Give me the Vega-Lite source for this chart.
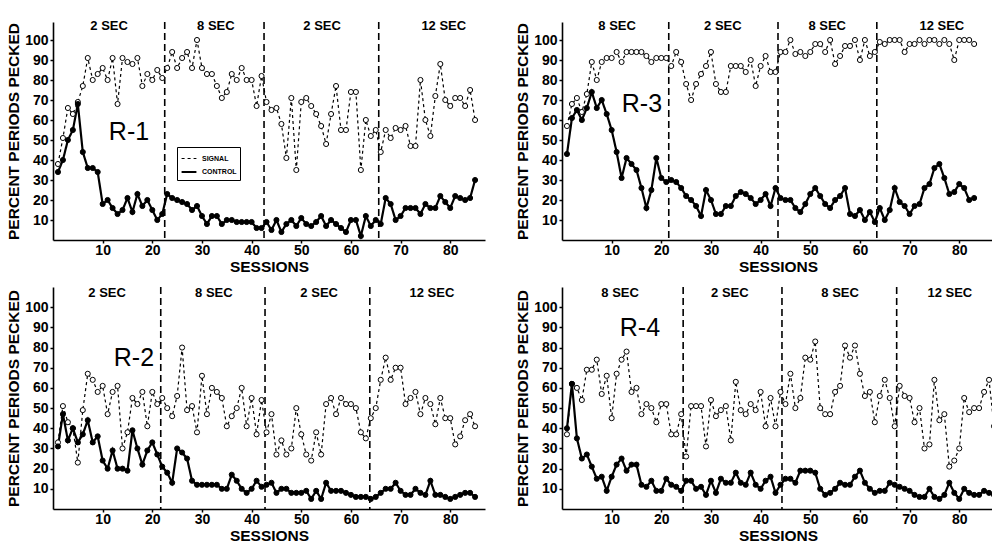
{
  "$schema": "https://vega.github.io/schema/vega-lite/v6.json",
  "background": "white",
  "padding": {"left": 6, "top": 20, "right": 0, "bottom": 0},
  "config": {
    "view": {"stroke": null},
    "axis": {"domainColor": "black", "domainWidth": 1.6, "tickColor": "black", "tickWidth": 1.5, "labelColor": "black", "labelFont": "Liberation Sans", "labelFontWeight": "bold", "labelFontSize": 14, "titleColor": "black", "titleFont": "Liberation Sans", "titleFontWeight": "bold", "titleFontSize": 15.5, "grid": false},
    "axisX": {"tickSize": 3, "labelPadding": 0, "titlePadding": 2},
    "axisY": {"tickSize": 3, "labelPadding": 2, "titlePadding": 3}
  },
  "datasets": {
    "r1": [
      {"s":1,"SIGNAL":38,"CONTROL":34},{"s":2,"SIGNAL":51,"CONTROL":40},{"s":3,"SIGNAL":66,"CONTROL":50},{"s":4,"SIGNAL":63,"CONTROL":55},{"s":5,"SIGNAL":69,"CONTROL":68},
      {"s":6,"SIGNAL":77,"CONTROL":44},{"s":7,"SIGNAL":91,"CONTROL":36},{"s":8,"SIGNAL":80,"CONTROL":36},{"s":9,"SIGNAL":83,"CONTROL":34},{"s":10,"SIGNAL":86,"CONTROL":18},
      {"s":11,"SIGNAL":80,"CONTROL":20},{"s":12,"SIGNAL":91,"CONTROL":16},{"s":13,"SIGNAL":68,"CONTROL":13},{"s":14,"SIGNAL":91,"CONTROL":15},{"s":15,"SIGNAL":89,"CONTROL":21},
      {"s":16,"SIGNAL":88,"CONTROL":14},{"s":17,"SIGNAL":91,"CONTROL":23},{"s":18,"SIGNAL":77,"CONTROL":17},{"s":19,"SIGNAL":83,"CONTROL":20},{"s":20,"SIGNAL":80,"CONTROL":15},
      {"s":21,"SIGNAL":85,"CONTROL":10},{"s":22,"SIGNAL":81,"CONTROL":13},{"s":23,"SIGNAL":86,"CONTROL":23},{"s":24,"SIGNAL":94,"CONTROL":21},{"s":25,"SIGNAL":86,"CONTROL":20},
      {"s":26,"SIGNAL":91,"CONTROL":19},{"s":27,"SIGNAL":94,"CONTROL":18},{"s":28,"SIGNAL":86,"CONTROL":15},{"s":29,"SIGNAL":100,"CONTROL":17},{"s":30,"SIGNAL":86,"CONTROL":12},
      {"s":31,"SIGNAL":83,"CONTROL":8},{"s":32,"SIGNAL":83,"CONTROL":12},{"s":33,"SIGNAL":77,"CONTROL":12},{"s":34,"SIGNAL":71,"CONTROL":8},{"s":35,"SIGNAL":74,"CONTROL":10},
      {"s":36,"SIGNAL":83,"CONTROL":10},{"s":37,"SIGNAL":80,"CONTROL":9},{"s":38,"SIGNAL":86,"CONTROL":9},{"s":39,"SIGNAL":80,"CONTROL":9},{"s":40,"SIGNAL":80,"CONTROL":9},
      {"s":41,"SIGNAL":67,"CONTROL":6},{"s":42,"SIGNAL":82,"CONTROL":6},{"s":43,"SIGNAL":69,"CONTROL":9},{"s":44,"SIGNAL":65,"CONTROL":5},{"s":45,"SIGNAL":66,"CONTROL":10},
      {"s":46,"SIGNAL":58,"CONTROL":4},{"s":47,"SIGNAL":41,"CONTROL":8},{"s":48,"SIGNAL":71,"CONTROL":10},{"s":49,"SIGNAL":35,"CONTROL":7},{"s":50,"SIGNAL":69,"CONTROL":11},
      {"s":51,"SIGNAL":71,"CONTROL":8},{"s":52,"SIGNAL":67,"CONTROL":7},{"s":53,"SIGNAL":63,"CONTROL":9},{"s":54,"SIGNAL":57,"CONTROL":12},{"s":55,"SIGNAL":48,"CONTROL":7},
      {"s":56,"SIGNAL":63,"CONTROL":10},{"s":57,"SIGNAL":77,"CONTROL":8},{"s":58,"SIGNAL":55,"CONTROL":6},{"s":59,"SIGNAL":55,"CONTROL":4},{"s":60,"SIGNAL":74,"CONTROL":10},
      {"s":61,"SIGNAL":74,"CONTROL":10},{"s":62,"SIGNAL":35,"CONTROL":2},{"s":63,"SIGNAL":60,"CONTROL":12},{"s":64,"SIGNAL":52,"CONTROL":7},{"s":65,"SIGNAL":55,"CONTROL":10},
      {"s":66,"SIGNAL":44,"CONTROL":8},{"s":67,"SIGNAL":55,"CONTROL":21},{"s":68,"SIGNAL":51,"CONTROL":18},{"s":69,"SIGNAL":56,"CONTROL":10},{"s":70,"SIGNAL":55,"CONTROL":12},
      {"s":71,"SIGNAL":57,"CONTROL":16},{"s":72,"SIGNAL":47,"CONTROL":16},{"s":73,"SIGNAL":47,"CONTROL":16},{"s":74,"SIGNAL":80,"CONTROL":13},{"s":75,"SIGNAL":60,"CONTROL":18},
      {"s":76,"SIGNAL":52,"CONTROL":16},{"s":77,"SIGNAL":72,"CONTROL":16},{"s":78,"SIGNAL":88,"CONTROL":22},{"s":79,"SIGNAL":70,"CONTROL":19},{"s":80,"SIGNAL":67,"CONTROL":16},
      {"s":81,"SIGNAL":71,"CONTROL":22},{"s":82,"SIGNAL":71,"CONTROL":21},{"s":83,"SIGNAL":67,"CONTROL":20},{"s":84,"SIGNAL":75,"CONTROL":21},{"s":85,"SIGNAL":60,"CONTROL":30}
    ],
    "r3": [
      {"s":1,"SIGNAL":57,"CONTROL":43},{"s":2,"SIGNAL":68,"CONTROL":61},{"s":3,"SIGNAL":71,"CONTROL":65},{"s":4,"SIGNAL":64,"CONTROL":60},{"s":5,"SIGNAL":73,"CONTROL":66},
      {"s":6,"SIGNAL":89,"CONTROL":74},{"s":7,"SIGNAL":80,"CONTROL":66},{"s":8,"SIGNAL":89,"CONTROL":70},{"s":9,"SIGNAL":91,"CONTROL":63},{"s":10,"SIGNAL":91,"CONTROL":55},
      {"s":11,"SIGNAL":94,"CONTROL":44},{"s":12,"SIGNAL":89,"CONTROL":31},{"s":13,"SIGNAL":94,"CONTROL":41},{"s":14,"SIGNAL":94,"CONTROL":38},{"s":15,"SIGNAL":94,"CONTROL":35},
      {"s":16,"SIGNAL":94,"CONTROL":26},{"s":17,"SIGNAL":92,"CONTROL":16},{"s":18,"SIGNAL":89,"CONTROL":25},{"s":19,"SIGNAL":91,"CONTROL":41},{"s":20,"SIGNAL":91,"CONTROL":31},
      {"s":21,"SIGNAL":91,"CONTROL":29},{"s":22,"SIGNAL":87,"CONTROL":30},{"s":23,"SIGNAL":94,"CONTROL":29},{"s":24,"SIGNAL":89,"CONTROL":26},{"s":25,"SIGNAL":78,"CONTROL":22},
      {"s":26,"SIGNAL":70,"CONTROL":20},{"s":27,"SIGNAL":78,"CONTROL":17},{"s":28,"SIGNAL":83,"CONTROL":12},{"s":29,"SIGNAL":87,"CONTROL":25},{"s":30,"SIGNAL":94,"CONTROL":20},
      {"s":31,"SIGNAL":78,"CONTROL":13},{"s":32,"SIGNAL":74,"CONTROL":13},{"s":33,"SIGNAL":74,"CONTROL":17},{"s":34,"SIGNAL":87,"CONTROL":17},{"s":35,"SIGNAL":87,"CONTROL":22},
      {"s":36,"SIGNAL":87,"CONTROL":24},{"s":37,"SIGNAL":84,"CONTROL":23},{"s":38,"SIGNAL":90,"CONTROL":21},{"s":39,"SIGNAL":77,"CONTROL":18},{"s":40,"SIGNAL":87,"CONTROL":20},
      {"s":41,"SIGNAL":92,"CONTROL":23},{"s":42,"SIGNAL":84,"CONTROL":17},{"s":43,"SIGNAL":84,"CONTROL":26},{"s":44,"SIGNAL":94,"CONTROL":21},{"s":45,"SIGNAL":94,"CONTROL":20},
      {"s":46,"SIGNAL":100,"CONTROL":20},{"s":47,"SIGNAL":93,"CONTROL":16},{"s":48,"SIGNAL":94,"CONTROL":14},{"s":49,"SIGNAL":92,"CONTROL":18},{"s":50,"SIGNAL":94,"CONTROL":23},
      {"s":51,"SIGNAL":98,"CONTROL":26},{"s":52,"SIGNAL":98,"CONTROL":22},{"s":53,"SIGNAL":94,"CONTROL":18},{"s":54,"SIGNAL":100,"CONTROL":16},{"s":55,"SIGNAL":88,"CONTROL":20},
      {"s":56,"SIGNAL":92,"CONTROL":22},{"s":57,"SIGNAL":97,"CONTROL":26},{"s":58,"SIGNAL":97,"CONTROL":13},{"s":59,"SIGNAL":100,"CONTROL":12},{"s":60,"SIGNAL":90,"CONTROL":15},
      {"s":61,"SIGNAL":100,"CONTROL":10},{"s":62,"SIGNAL":92,"CONTROL":14},{"s":63,"SIGNAL":94,"CONTROL":9},{"s":64,"SIGNAL":99,"CONTROL":16},{"s":65,"SIGNAL":98,"CONTROL":10},
      {"s":66,"SIGNAL":100,"CONTROL":15},{"s":67,"SIGNAL":100,"CONTROL":26},{"s":68,"SIGNAL":100,"CONTROL":19},{"s":69,"SIGNAL":94,"CONTROL":17},{"s":70,"SIGNAL":98,"CONTROL":13},
      {"s":71,"SIGNAL":98,"CONTROL":17},{"s":72,"SIGNAL":100,"CONTROL":18},{"s":73,"SIGNAL":98,"CONTROL":26},{"s":74,"SIGNAL":100,"CONTROL":28},{"s":75,"SIGNAL":100,"CONTROL":36},
      {"s":76,"SIGNAL":98,"CONTROL":38},{"s":77,"SIGNAL":100,"CONTROL":31},{"s":78,"SIGNAL":98,"CONTROL":23},{"s":79,"SIGNAL":90,"CONTROL":24},{"s":80,"SIGNAL":100,"CONTROL":28},
      {"s":81,"SIGNAL":100,"CONTROL":26},{"s":82,"SIGNAL":100,"CONTROL":20},{"s":83,"SIGNAL":98,"CONTROL":21}
    ],
    "r2": [
      {"s":1,"SIGNAL":33,"CONTROL":31},{"s":2,"SIGNAL":51,"CONTROL":47},{"s":3,"SIGNAL":43,"CONTROL":34},{"s":4,"SIGNAL":40,"CONTROL":40},{"s":5,"SIGNAL":23,"CONTROL":33},
      {"s":6,"SIGNAL":49,"CONTROL":37},{"s":7,"SIGNAL":67,"CONTROL":44},{"s":8,"SIGNAL":64,"CONTROL":33},{"s":9,"SIGNAL":58,"CONTROL":36},{"s":10,"SIGNAL":61,"CONTROL":24},
      {"s":11,"SIGNAL":47,"CONTROL":20},{"s":12,"SIGNAL":58,"CONTROL":29},{"s":13,"SIGNAL":61,"CONTROL":20},{"s":14,"SIGNAL":30,"CONTROL":20},{"s":15,"SIGNAL":38,"CONTROL":19},
      {"s":16,"SIGNAL":55,"CONTROL":39},{"s":17,"SIGNAL":52,"CONTROL":30},{"s":18,"SIGNAL":58,"CONTROL":22},{"s":19,"SIGNAL":41,"CONTROL":29},{"s":20,"SIGNAL":58,"CONTROL":33},
      {"s":21,"SIGNAL":52,"CONTROL":27},{"s":22,"SIGNAL":55,"CONTROL":21},{"s":23,"SIGNAL":50,"CONTROL":18},{"s":24,"SIGNAL":46,"CONTROL":13},{"s":25,"SIGNAL":56,"CONTROL":30},
      {"s":26,"SIGNAL":80,"CONTROL":28},{"s":27,"SIGNAL":49,"CONTROL":25},{"s":28,"SIGNAL":51,"CONTROL":14},{"s":29,"SIGNAL":38,"CONTROL":12},{"s":30,"SIGNAL":66,"CONTROL":12},
      {"s":31,"SIGNAL":47,"CONTROL":12},{"s":32,"SIGNAL":60,"CONTROL":12},{"s":33,"SIGNAL":58,"CONTROL":12},{"s":34,"SIGNAL":55,"CONTROL":10},{"s":35,"SIGNAL":41,"CONTROL":10},
      {"s":36,"SIGNAL":46,"CONTROL":17},{"s":37,"SIGNAL":50,"CONTROL":14},{"s":38,"SIGNAL":60,"CONTROL":10},{"s":39,"SIGNAL":41,"CONTROL":8},{"s":40,"SIGNAL":55,"CONTROL":10},
      {"s":41,"SIGNAL":37,"CONTROL":14},{"s":42,"SIGNAL":54,"CONTROL":11},{"s":43,"SIGNAL":38,"CONTROL":12},{"s":44,"SIGNAL":47,"CONTROL":13},{"s":45,"SIGNAL":27,"CONTROL":8},
      {"s":46,"SIGNAL":34,"CONTROL":10},{"s":47,"SIGNAL":27,"CONTROL":10},{"s":48,"SIGNAL":30,"CONTROL":8},{"s":49,"SIGNAL":50,"CONTROL":8},{"s":50,"SIGNAL":37,"CONTROL":8},
      {"s":51,"SIGNAL":27,"CONTROL":9},{"s":52,"SIGNAL":24,"CONTROL":5},{"s":53,"SIGNAL":38,"CONTROL":9},{"s":54,"SIGNAL":27,"CONTROL":5},{"s":55,"SIGNAL":52,"CONTROL":13},
      {"s":56,"SIGNAL":55,"CONTROL":9},{"s":57,"SIGNAL":47,"CONTROL":9},{"s":58,"SIGNAL":55,"CONTROL":9},{"s":59,"SIGNAL":52,"CONTROL":8},{"s":60,"SIGNAL":52,"CONTROL":7},
      {"s":61,"SIGNAL":50,"CONTROL":6},{"s":62,"SIGNAL":38,"CONTROL":6},{"s":63,"SIGNAL":35,"CONTROL":6},{"s":64,"SIGNAL":45,"CONTROL":5},{"s":65,"SIGNAL":50,"CONTROL":6},
      {"s":66,"SIGNAL":64,"CONTROL":8},{"s":67,"SIGNAL":75,"CONTROL":10},{"s":68,"SIGNAL":64,"CONTROL":10},{"s":69,"SIGNAL":70,"CONTROL":13},{"s":70,"SIGNAL":70,"CONTROL":9},
      {"s":71,"SIGNAL":52,"CONTROL":7},{"s":72,"SIGNAL":55,"CONTROL":7},{"s":73,"SIGNAL":58,"CONTROL":10},{"s":74,"SIGNAL":47,"CONTROL":8},{"s":75,"SIGNAL":55,"CONTROL":7},
      {"s":76,"SIGNAL":52,"CONTROL":14},{"s":77,"SIGNAL":42,"CONTROL":7},{"s":78,"SIGNAL":55,"CONTROL":7},{"s":79,"SIGNAL":45,"CONTROL":6},{"s":80,"SIGNAL":45,"CONTROL":5},
      {"s":81,"SIGNAL":32,"CONTROL":6},{"s":82,"SIGNAL":36,"CONTROL":7},{"s":83,"SIGNAL":44,"CONTROL":8},{"s":84,"SIGNAL":47,"CONTROL":8},{"s":85,"SIGNAL":41,"CONTROL":6}
    ],
    "r4": [
      {"s":1,"SIGNAL":37,"CONTROL":40},{"s":2,"SIGNAL":62,"CONTROL":62},{"s":3,"SIGNAL":60,"CONTROL":35},{"s":4,"SIGNAL":54,"CONTROL":25},{"s":5,"SIGNAL":69,"CONTROL":27},
      {"s":6,"SIGNAL":69,"CONTROL":21},{"s":7,"SIGNAL":74,"CONTROL":15},{"s":8,"SIGNAL":57,"CONTROL":16},{"s":9,"SIGNAL":66,"CONTROL":9},{"s":10,"SIGNAL":45,"CONTROL":16},
      {"s":11,"SIGNAL":67,"CONTROL":22},{"s":12,"SIGNAL":74,"CONTROL":25},{"s":13,"SIGNAL":78,"CONTROL":19},{"s":14,"SIGNAL":58,"CONTROL":22},{"s":15,"SIGNAL":60,"CONTROL":22},
      {"s":16,"SIGNAL":47,"CONTROL":12},{"s":17,"SIGNAL":52,"CONTROL":11},{"s":18,"SIGNAL":50,"CONTROL":14},{"s":19,"SIGNAL":43,"CONTROL":9},{"s":20,"SIGNAL":52,"CONTROL":9},
      {"s":21,"SIGNAL":52,"CONTROL":15},{"s":22,"SIGNAL":37,"CONTROL":12},{"s":23,"SIGNAL":37,"CONTROL":11},{"s":24,"SIGNAL":47,"CONTROL":9},{"s":25,"SIGNAL":26,"CONTROL":14},
      {"s":26,"SIGNAL":51,"CONTROL":14},{"s":27,"SIGNAL":51,"CONTROL":10},{"s":28,"SIGNAL":51,"CONTROL":11},{"s":29,"SIGNAL":31,"CONTROL":7},{"s":30,"SIGNAL":54,"CONTROL":14},
      {"s":31,"SIGNAL":46,"CONTROL":8},{"s":32,"SIGNAL":49,"CONTROL":15},{"s":33,"SIGNAL":51,"CONTROL":13},{"s":34,"SIGNAL":34,"CONTROL":13},{"s":35,"SIGNAL":63,"CONTROL":18},
      {"s":36,"SIGNAL":49,"CONTROL":13},{"s":37,"SIGNAL":47,"CONTROL":12},{"s":38,"SIGNAL":52,"CONTROL":18},{"s":39,"SIGNAL":49,"CONTROL":12},{"s":40,"SIGNAL":58,"CONTROL":10},
      {"s":41,"SIGNAL":41,"CONTROL":14},{"s":42,"SIGNAL":55,"CONTROL":16},{"s":43,"SIGNAL":41,"CONTROL":8},{"s":44,"SIGNAL":58,"CONTROL":12},{"s":45,"SIGNAL":52,"CONTROL":15},
      {"s":46,"SIGNAL":67,"CONTROL":15},{"s":47,"SIGNAL":50,"CONTROL":13},{"s":48,"SIGNAL":55,"CONTROL":19},{"s":49,"SIGNAL":75,"CONTROL":19},{"s":50,"SIGNAL":74,"CONTROL":19},
      {"s":51,"SIGNAL":83,"CONTROL":18},{"s":52,"SIGNAL":50,"CONTROL":10},{"s":53,"SIGNAL":47,"CONTROL":7},{"s":54,"SIGNAL":47,"CONTROL":8},{"s":55,"SIGNAL":58,"CONTROL":10},
      {"s":56,"SIGNAL":61,"CONTROL":13},{"s":57,"SIGNAL":81,"CONTROL":12},{"s":58,"SIGNAL":75,"CONTROL":12},{"s":59,"SIGNAL":81,"CONTROL":16},{"s":60,"SIGNAL":67,"CONTROL":19},
      {"s":61,"SIGNAL":56,"CONTROL":13},{"s":62,"SIGNAL":58,"CONTROL":10},{"s":63,"SIGNAL":43,"CONTROL":8},{"s":64,"SIGNAL":56,"CONTROL":9},{"s":65,"SIGNAL":64,"CONTROL":9},
      {"s":66,"SIGNAL":55,"CONTROL":13},{"s":67,"SIGNAL":41,"CONTROL":12},{"s":68,"SIGNAL":61,"CONTROL":11},{"s":69,"SIGNAL":56,"CONTROL":10},{"s":70,"SIGNAL":55,"CONTROL":9},
      {"s":71,"SIGNAL":43,"CONTROL":7},{"s":72,"SIGNAL":50,"CONTROL":6},{"s":73,"SIGNAL":30,"CONTROL":6},{"s":74,"SIGNAL":32,"CONTROL":10},{"s":75,"SIGNAL":64,"CONTROL":6},
      {"s":76,"SIGNAL":44,"CONTROL":5},{"s":77,"SIGNAL":47,"CONTROL":7},{"s":78,"SIGNAL":21,"CONTROL":13},{"s":79,"SIGNAL":24,"CONTROL":8},{"s":80,"SIGNAL":30,"CONTROL":5},
      {"s":81,"SIGNAL":55,"CONTROL":10},{"s":82,"SIGNAL":48,"CONTROL":8},{"s":83,"SIGNAL":50,"CONTROL":7},{"s":84,"SIGNAL":50,"CONTROL":7},{"s":85,"SIGNAL":58,"CONTROL":9},
      {"s":86,"SIGNAL":64,"CONTROL":8},{"s":87,"SIGNAL":41,"CONTROL":7}
    ]
  },
  "resolve": {"scale": {"strokeDash": "independent", "strokeWidth": "independent", "fill": "independent"}, "legend": {"strokeDash": "independent"}},
  "spacing": 11,
  "vconcat": [
    {
      "spacing": 30,
      "resolve": {"scale": {"strokeDash": "independent", "strokeWidth": "independent", "fill": "independent"}, "legend": {"strokeDash": "independent"}},
      "hconcat": [
        {
          "width": 432, "height": 218,
          "layer": [
            {"data": {"values": [{"b": 22.5}, {"b": 42.5}, {"b": 65.6}]},
             "mark": {"type": "rule", "color": "black", "strokeWidth": 1.6, "strokeDash": [7, 4]},
             "encoding": {"x": {"field": "b", "type": "quantitative", "scale": {"domain": [0, 87], "nice": false}, "axis": {"title": "SESSIONS", "values": [10, 20, 30, 40, 50, 60, 70, 80]}}}},
            {"data": {"values": [{"t": "2 SEC", "s": 11.3}, {"t": "8 SEC", "s": 32.8}, {"t": "2 SEC", "s": 54.2}, {"t": "12 SEC", "s": 78.7}]},
             "mark": {"type": "text", "font": "Liberation Sans", "fontWeight": "bold", "fontSize": 13, "baseline": "middle", "color": "black"},
             "encoding": {"x": {"field": "s", "type": "quantitative", "scale": {"domain": [0, 87], "nice": false}, "axis": {"title": "SESSIONS", "values": [10, 20, 30, 40, 50, 60, 70, 80]}},
                          "y": {"datum": 107, "type": "quantitative", "scale": {"domain": [0, 109], "nice": false}, "axis": {"title": "PERCENT PERIODS PECKED", "values": [10, 20, 30, 40, 50, 60, 70, 80, 90, 100]}},
                          "text": {"field": "t"}}},
            {"data": {"values": [{"t": "R-1"}]},
             "mark": {"type": "text", "font": "Liberation Sans", "fontSize": 25, "baseline": "middle", "color": "black"},
             "encoding": {"x": {"datum": 15.3, "type": "quantitative", "scale": {"domain": [0, 87], "nice": false}, "axis": {"title": "SESSIONS", "values": [10, 20, 30, 40, 50, 60, 70, 80]}},
                          "y": {"datum": 54, "type": "quantitative", "scale": {"domain": [0, 109], "nice": false}, "axis": {"title": "PERCENT PERIODS PECKED", "values": [10, 20, 30, 40, 50, 60, 70, 80, 90, 100]}},
                          "text": {"field": "t"}}},
            {"data": {"name": "r1"},
             "transform": [{"fold": ["SIGNAL", "CONTROL"], "as": ["series", "pct"]}],
             "mark": {"type": "line", "color": "black"},
             "encoding": {
               "x": {"field": "s", "type": "quantitative", "scale": {"domain": [0, 87], "nice": false}, "axis": {"title": "SESSIONS", "values": [10, 20, 30, 40, 50, 60, 70, 80]}},
               "y": {"field": "pct", "type": "quantitative", "scale": {"domain": [0, 109], "nice": false}, "axis": {"title": "PERCENT PERIODS PECKED", "values": [10, 20, 30, 40, 50, 60, 70, 80, 90, 100]}},
               "strokeDash": {"field": "series", "type": "nominal", "scale": {"domain": ["SIGNAL", "CONTROL"], "range": [[3, 3], [1, 0]]},
                              "legend": {"orient": "none", "legendX": 124, "legendY": 125, "title": null, "symbolType": "stroke", "symbolStrokeColor": "black", "symbolStrokeWidth": 1.5, "symbolSize": 220, "labelFont": "Liberation Sans", "labelFontWeight": "bold", "labelFontSize": 7, "labelColor": "black", "strokeColor": "black", "padding": 3, "rowPadding": 1, "labelOffset": 4, "fillColor": "white"}},
               "strokeWidth": {"field": "series", "type": "nominal", "scale": {"domain": ["SIGNAL", "CONTROL"], "range": [1.2, 2.2]}, "legend": null}
             }},
            {"data": {"name": "r1"},
             "transform": [{"fold": ["SIGNAL", "CONTROL"], "as": ["series", "pct"]}],
             "mark": {"type": "circle", "stroke": "black", "strokeWidth": 1, "size": 26, "opacity": 1},
             "encoding": {
               "x": {"field": "s", "type": "quantitative", "scale": {"domain": [0, 87], "nice": false}, "axis": {"title": "SESSIONS", "values": [10, 20, 30, 40, 50, 60, 70, 80]}},
               "y": {"field": "pct", "type": "quantitative", "scale": {"domain": [0, 109], "nice": false}, "axis": {"title": "PERCENT PERIODS PECKED", "values": [10, 20, 30, 40, 50, 60, 70, 80, 90, 100]}},
               "fill": {"field": "series", "type": "nominal", "scale": {"domain": ["SIGNAL", "CONTROL"], "range": ["white", "black"]}, "legend": null}
             }}
          ]
        },
        {
          "width": 432, "height": 218,
          "layer": [
            {"data": {"values": [{"b": 21.5}, {"b": 43.5}, {"b": 63.4}]},
             "mark": {"type": "rule", "color": "black", "strokeWidth": 1.6, "strokeDash": [7, 4]},
             "encoding": {"x": {"field": "b", "type": "quantitative", "scale": {"domain": [0, 87], "nice": false}, "axis": {"title": "SESSIONS", "values": [10, 20, 30, 40, 50, 60, 70, 80]}}}},
            {"data": {"values": [{"t": "8 SEC", "s": 11.1}, {"t": "2 SEC", "s": 32.4}, {"t": "8 SEC", "s": 53.4}, {"t": "12 SEC", "s": 76.5}]},
             "mark": {"type": "text", "font": "Liberation Sans", "fontWeight": "bold", "fontSize": 13, "baseline": "middle", "color": "black"},
             "encoding": {"x": {"field": "s", "type": "quantitative", "scale": {"domain": [0, 87], "nice": false}, "axis": {"title": "SESSIONS", "values": [10, 20, 30, 40, 50, 60, 70, 80]}},
                          "y": {"datum": 107, "type": "quantitative", "scale": {"domain": [0, 109], "nice": false}, "axis": {"title": "PERCENT PERIODS PECKED", "values": [10, 20, 30, 40, 50, 60, 70, 80, 90, 100]}},
                          "text": {"field": "t"}}},
            {"data": {"values": [{"t": "R-3"}]},
             "mark": {"type": "text", "font": "Liberation Sans", "fontSize": 25, "baseline": "middle", "color": "black"},
             "encoding": {"x": {"datum": 16.1, "type": "quantitative", "scale": {"domain": [0, 87], "nice": false}, "axis": {"title": "SESSIONS", "values": [10, 20, 30, 40, 50, 60, 70, 80]}},
                          "y": {"datum": 68, "type": "quantitative", "scale": {"domain": [0, 109], "nice": false}, "axis": {"title": "PERCENT PERIODS PECKED", "values": [10, 20, 30, 40, 50, 60, 70, 80, 90, 100]}},
                          "text": {"field": "t"}}},
            {"data": {"name": "r3"},
             "transform": [{"fold": ["SIGNAL", "CONTROL"], "as": ["series", "pct"]}],
             "mark": {"type": "line", "color": "black"},
             "encoding": {
               "x": {"field": "s", "type": "quantitative", "scale": {"domain": [0, 87], "nice": false}, "axis": {"title": "SESSIONS", "values": [10, 20, 30, 40, 50, 60, 70, 80]}},
               "y": {"field": "pct", "type": "quantitative", "scale": {"domain": [0, 109], "nice": false}, "axis": {"title": "PERCENT PERIODS PECKED", "values": [10, 20, 30, 40, 50, 60, 70, 80, 90, 100]}},
               "strokeDash": {"field": "series", "type": "nominal", "scale": {"domain": ["SIGNAL", "CONTROL"], "range": [[3, 3], [1, 0]]}, "legend": null},
               "strokeWidth": {"field": "series", "type": "nominal", "scale": {"domain": ["SIGNAL", "CONTROL"], "range": [1.2, 2.2]}, "legend": null}
             }},
            {"data": {"name": "r3"},
             "transform": [{"fold": ["SIGNAL", "CONTROL"], "as": ["series", "pct"]}],
             "mark": {"type": "circle", "stroke": "black", "strokeWidth": 1, "size": 26, "opacity": 1},
             "encoding": {
               "x": {"field": "s", "type": "quantitative", "scale": {"domain": [0, 87], "nice": false}, "axis": {"title": "SESSIONS", "values": [10, 20, 30, 40, 50, 60, 70, 80]}},
               "y": {"field": "pct", "type": "quantitative", "scale": {"domain": [0, 109], "nice": false}, "axis": {"title": "PERCENT PERIODS PECKED", "values": [10, 20, 30, 40, 50, 60, 70, 80, 90, 100]}},
               "fill": {"field": "series", "type": "nominal", "scale": {"domain": ["SIGNAL", "CONTROL"], "range": ["white", "black"]}, "legend": null}
             }}
          ]
        }
      ]
    },
    {
      "spacing": 30,
      "resolve": {"scale": {"strokeDash": "independent", "strokeWidth": "independent", "fill": "independent"}, "legend": {"strokeDash": "independent"}},
      "hconcat": [
        {
          "width": 432, "height": 222,
          "layer": [
            {"data": {"values": [{"b": 21.7}, {"b": 42.7}, {"b": 63.8}]},
             "mark": {"type": "rule", "color": "black", "strokeWidth": 1.6, "strokeDash": [7, 4]},
             "encoding": {"x": {"field": "b", "type": "quantitative", "scale": {"domain": [0, 87], "nice": false}, "axis": {"title": "SESSIONS", "values": [10, 20, 30, 40, 50, 60, 70, 80]}}}},
            {"data": {"values": [{"t": "2 SEC", "s": 10.9}, {"t": "8 SEC", "s": 32.4}, {"t": "2 SEC", "s": 53.6}, {"t": "12 SEC", "s": 76.3}]},
             "mark": {"type": "text", "font": "Liberation Sans", "fontWeight": "bold", "fontSize": 13, "baseline": "middle", "color": "black"},
             "encoding": {"x": {"field": "s", "type": "quantitative", "scale": {"domain": [0, 87], "nice": false}, "axis": {"title": "SESSIONS", "values": [10, 20, 30, 40, 50, 60, 70, 80]}},
                          "y": {"datum": 107, "type": "quantitative", "scale": {"domain": [0, 110], "nice": false}, "axis": {"title": "PERCENT PERIODS PECKED", "values": [10, 20, 30, 40, 50, 60, 70, 80, 90, 100]}},
                          "text": {"field": "t"}}},
            {"data": {"values": [{"t": "R-2"}]},
             "mark": {"type": "text", "font": "Liberation Sans", "fontSize": 25, "baseline": "middle", "color": "black"},
             "encoding": {"x": {"datum": 16.3, "type": "quantitative", "scale": {"domain": [0, 87], "nice": false}, "axis": {"title": "SESSIONS", "values": [10, 20, 30, 40, 50, 60, 70, 80]}},
                          "y": {"datum": 75, "type": "quantitative", "scale": {"domain": [0, 110], "nice": false}, "axis": {"title": "PERCENT PERIODS PECKED", "values": [10, 20, 30, 40, 50, 60, 70, 80, 90, 100]}},
                          "text": {"field": "t"}}},
            {"data": {"name": "r2"},
             "transform": [{"fold": ["SIGNAL", "CONTROL"], "as": ["series", "pct"]}],
             "mark": {"type": "line", "color": "black"},
             "encoding": {
               "x": {"field": "s", "type": "quantitative", "scale": {"domain": [0, 87], "nice": false}, "axis": {"title": "SESSIONS", "values": [10, 20, 30, 40, 50, 60, 70, 80]}},
               "y": {"field": "pct", "type": "quantitative", "scale": {"domain": [0, 110], "nice": false}, "axis": {"title": "PERCENT PERIODS PECKED", "values": [10, 20, 30, 40, 50, 60, 70, 80, 90, 100]}},
               "strokeDash": {"field": "series", "type": "nominal", "scale": {"domain": ["SIGNAL", "CONTROL"], "range": [[3, 3], [1, 0]]}, "legend": null},
               "strokeWidth": {"field": "series", "type": "nominal", "scale": {"domain": ["SIGNAL", "CONTROL"], "range": [1.2, 2.2]}, "legend": null}
             }},
            {"data": {"name": "r2"},
             "transform": [{"fold": ["SIGNAL", "CONTROL"], "as": ["series", "pct"]}],
             "mark": {"type": "circle", "stroke": "black", "strokeWidth": 1, "size": 26, "opacity": 1},
             "encoding": {
               "x": {"field": "s", "type": "quantitative", "scale": {"domain": [0, 87], "nice": false}, "axis": {"title": "SESSIONS", "values": [10, 20, 30, 40, 50, 60, 70, 80]}},
               "y": {"field": "pct", "type": "quantitative", "scale": {"domain": [0, 110], "nice": false}, "axis": {"title": "PERCENT PERIODS PECKED", "values": [10, 20, 30, 40, 50, 60, 70, 80, 90, 100]}},
               "fill": {"field": "series", "type": "nominal", "scale": {"domain": ["SIGNAL", "CONTROL"], "range": ["white", "black"]}, "legend": null}
             }}
          ]
        },
        {
          "width": 432, "height": 222,
          "layer": [
            {"data": {"values": [{"b": 24.4}, {"b": 44.3}, {"b": 67.4}]},
             "mark": {"type": "rule", "color": "black", "strokeWidth": 1.6, "strokeDash": [7, 4]},
             "encoding": {"x": {"field": "b", "type": "quantitative", "scale": {"domain": [0, 87], "nice": false}, "axis": {"title": "SESSIONS", "values": [10, 20, 30, 40, 50, 60, 70, 80]}}}},
            {"data": {"values": [{"t": "8 SEC", "s": 11.7}, {"t": "2 SEC", "s": 33.8}, {"t": "8 SEC", "s": 56}, {"t": "12 SEC", "s": 78.1}]},
             "mark": {"type": "text", "font": "Liberation Sans", "fontWeight": "bold", "fontSize": 13, "baseline": "middle", "color": "black"},
             "encoding": {"x": {"field": "s", "type": "quantitative", "scale": {"domain": [0, 87], "nice": false}, "axis": {"title": "SESSIONS", "values": [10, 20, 30, 40, 50, 60, 70, 80]}},
                          "y": {"datum": 107, "type": "quantitative", "scale": {"domain": [0, 110], "nice": false}, "axis": {"title": "PERCENT PERIODS PECKED", "values": [10, 20, 30, 40, 50, 60, 70, 80, 90, 100]}},
                          "text": {"field": "t"}}},
            {"data": {"values": [{"t": "R-4"}]},
             "mark": {"type": "text", "font": "Liberation Sans", "fontSize": 25, "baseline": "middle", "color": "black"},
             "encoding": {"x": {"datum": 15.7, "type": "quantitative", "scale": {"domain": [0, 87], "nice": false}, "axis": {"title": "SESSIONS", "values": [10, 20, 30, 40, 50, 60, 70, 80]}},
                          "y": {"datum": 89.5, "type": "quantitative", "scale": {"domain": [0, 110], "nice": false}, "axis": {"title": "PERCENT PERIODS PECKED", "values": [10, 20, 30, 40, 50, 60, 70, 80, 90, 100]}},
                          "text": {"field": "t"}}},
            {"data": {"name": "r4"},
             "transform": [{"fold": ["SIGNAL", "CONTROL"], "as": ["series", "pct"]}],
             "mark": {"type": "line", "color": "black"},
             "encoding": {
               "x": {"field": "s", "type": "quantitative", "scale": {"domain": [0, 87], "nice": false}, "axis": {"title": "SESSIONS", "values": [10, 20, 30, 40, 50, 60, 70, 80]}},
               "y": {"field": "pct", "type": "quantitative", "scale": {"domain": [0, 110], "nice": false}, "axis": {"title": "PERCENT PERIODS PECKED", "values": [10, 20, 30, 40, 50, 60, 70, 80, 90, 100]}},
               "strokeDash": {"field": "series", "type": "nominal", "scale": {"domain": ["SIGNAL", "CONTROL"], "range": [[3, 3], [1, 0]]}, "legend": null},
               "strokeWidth": {"field": "series", "type": "nominal", "scale": {"domain": ["SIGNAL", "CONTROL"], "range": [1.2, 2.2]}, "legend": null}
             }},
            {"data": {"name": "r4"},
             "transform": [{"fold": ["SIGNAL", "CONTROL"], "as": ["series", "pct"]}],
             "mark": {"type": "circle", "stroke": "black", "strokeWidth": 1, "size": 26, "opacity": 1},
             "encoding": {
               "x": {"field": "s", "type": "quantitative", "scale": {"domain": [0, 87], "nice": false}, "axis": {"title": "SESSIONS", "values": [10, 20, 30, 40, 50, 60, 70, 80]}},
               "y": {"field": "pct", "type": "quantitative", "scale": {"domain": [0, 110], "nice": false}, "axis": {"title": "PERCENT PERIODS PECKED", "values": [10, 20, 30, 40, 50, 60, 70, 80, 90, 100]}},
               "fill": {"field": "series", "type": "nominal", "scale": {"domain": ["SIGNAL", "CONTROL"], "range": ["white", "black"]}, "legend": null}
             }}
          ]
        }
      ]
    }
  ]
}
